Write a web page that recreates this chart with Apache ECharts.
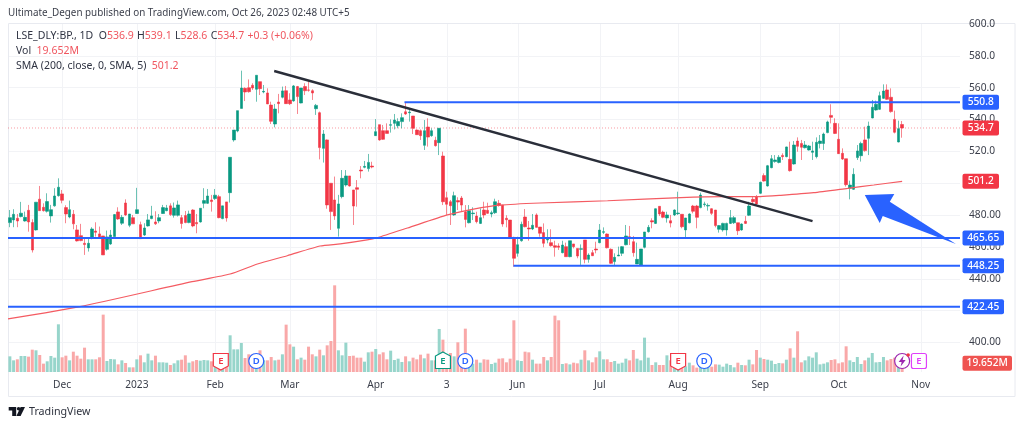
<!DOCTYPE html>
<html><head><meta charset="utf-8">
<style>html,body{margin:0;padding:0;background:#fff}#c{width:1024px;height:427px}</style>
<script src="https://cdn.jsdelivr.net/npm/echarts@6/dist/echarts.min.js"></script></head>
<body><div id="c"></div>
<script>
// [open, close, low, high]
const ohlc = [
[475.3,478.4,472.4,483.2],[477,480.5,472.4,483.7],[478,476.3,472.4,480.7],[479.1,481.2,478.6,488.3],[476.3,478.6,475.9,482.2],
[483,475.7,469.6,486.4],[475.3,458.1,456.5,477.4],[470.7,488.1,470.3,488.1],[490,482.8,482.8,498.3],[484.9,482.8,482.2,487.4],
[482.4,488.5,481.6,493.7],[479.5,483.4,475.3,486.4],[485.8,492,485.3,496.9],[492.2,497.5,491.6,503.1],[493.3,489.3,487.4,495.8],
[484.7,480.7,474.9,486.2],[478.8,483.4,478,489.1],[480.5,474.5,471.1,483.2],[470.7,463.8,463.4,473.8],[467.1,464,463.6,474.5],
[462.3,461.5,455,465.5],[459.4,462.3,457.1,465.5],[465.5,471.3,464.8,472.4],[470,469.2,466.5,475.5],[468.2,465.5,465.2,472.8],
[466.9,455,455,466.9],[458.5,466.3,457.7,470.3],[461.9,467.5,461.3,470.7],[466.5,480.3,466.1,480.7],[482,477.6,477,484.9],
[474.9,478.6,473.8,480.1],[487.6,480.1,479.5,489.9],[473.6,480.7,472.4,480.7],[478.4,474.5,474.5,480.1],[481,483.4,480.7,497.1],
[474,465.2,465,475.9],[467.5,471.9,466.9,474.9],[473.2,477,472.8,480.7],[477.8,479.5,477.4,485.8],[475.7,474.5,473.8,482.4],
[476.3,478.4,474.9,480.7],[481,484.7,480.7,486.4],[482.8,484.5,482.4,486.4],[485.8,480.3,479.5,487.4],[479.9,484.5,478.4,487.9],
[479.9,486.4,479.1,489.1],[478.4,474.7,471.5,480.1],[479.7,475.3,474.9,482.6],[475.3,480.7,474.9,482.8],[483.2,473.2,472.4,483.7],
[475.3,474.5,468.6,480.7],[475.7,484.3,475.3,484.3],[487.4,489.1,484.3,496.9],[487.4,492,487,496.4],[489.5,488.5,482.2,492.7],
[490.4,492.5,489.5,496.4],[491.6,478.4,478,492.7],[477.8,485.8,477.4,485.8],[488.3,478.2,475.9,488.3],[494.1,516.3,487.9,516.3],
[527.2,533.4,526.1,533.4],[532.8,545.6,532,545.6],[547,559.8,547,570.7],[559.6,557.3,551.6,560.2],[560,557.5,556.9,565.2],
[561.5,559.8,558.6,562.8],[559,567.8,551.2,567.8],[563.8,559.4,555.4,563.8],[557.3,557.7,556.5,561.7],[556.7,549.8,549.8,559.6],
[549.1,538.9,537.2,551.2],[537.2,546.6,535.1,549.8],[551,550,543.9,556.1],[554,558,553.3,560.7],[558.1,550,549.8,561.1],
[552.3,550,549.1,556.5],[551.7,561.1,551.2,561.7],[560.7,554.4,543.5,561.1],[550.4,559.8,550.2,559.8],[560.7,558.1,555.4,562.8],
[558.6,558.4,557.5,563.8],[558.1,556.7,552.3,559],[546.8,548.9,542.9,549.8],[544.3,522.4,515,545],[521.9,530.9,513,533.4],
[527.2,486.4,484,527.5],[500,482.2,470.7,500],[489.5,479.5,477,504.2],[471.7,487,466.5,492.7],[491.6,503.1,490.5,508.3],
[498.9,504.6,497.9,508.3],[504.6,498.3,497.9,504.6],[495.8,485.7,473.8,495.8],[497.2,496.2,485.3,502],[508.3,507.7,503.1,510.8],
[510,510.6,509.4,514],[509.2,513.1,507.3,518.4],[510.8,510.2,509.4,513.5],[529.9,532.4,529.7,540.3],[536.8,527.2,526.7,536.8],
[533,527.6,527.2,536.6],[533,531.3,531.3,537.6],[536.4,536.8,531.8,540.1],[537.6,539.7,533.8,543.5],[536.1,538.7,534.5,540.8],
[538.7,541.2,534.5,543.9],[544.9,543.5,542.9,550.6],[544.3,544.7,538.7,546],[542.2,534.5,530.9,542.2],[533.4,530.5,530.3,533.8],
[533,529.9,527.2,533.8],[523.8,533,520.9,539.7],[535.3,529,523,540.8],[529.9,533,529.2,534.5],[527,523.6,523,529.2],
[525.5,534.5,517.7,534.5],[517.1,488.4,486.3,519.8],[490.9,486.8,480.1,494.7],[488.4,485.9,473.8,489.5],[480.1,492.2,479.6,494.7],
[489.1,488.2,483.2,491.2],[490.7,486.3,482.1,492],[482.1,477.3,472.3,486.3],[475.2,482.8,474.8,486.3],[480.9,481.3,476.9,484.9],
[479.4,475.9,474.8,482.1],[474.8,478.4,474.4,484.2],[483.2,480.1,478,488.4],[483,481.1,480.7,487.8],[480.7,481.5,478.6,482.8],
[481.5,488.4,480.7,490.3],[487.4,486.1,485.3,489.5],[486.3,474.4,472.7,486.3],[478,477.1,472.3,479.9],[476.9,466,465.4,476.9],
[466,452.9,447.6,466.4],[456,461.4,453.9,466.4],[463.9,474.2,463.3,475.9],[478.8,472.7,472.3,483.8],[471.9,471.3,463.9,476.3],
[471.3,473.6,470.6,480.7],[480.1,472.3,472.1,481.1],[472.5,468.6,466.4,472.5],[469,462.3,459.8,474.8],[464.4,464.8,462.3,471.1],
[462.7,460.8,460.2,471.1],[460.8,459.8,453.9,463.9],[460.6,459.8,458.1,462.3],[456.4,461.2,456,463.9],[460.2,453.9,453.9,462.7],
[453.9,463.9,453.5,463.9],[461.9,460.2,459.1,461.9],[459.1,454.3,452.9,459.1],[458.5,458.9,448.7,461.6],[464.4,452.2,449.7,464.4],
[452.2,454.9,450.1,456],[456.4,454.5,454.3,458.1],[458.7,458.1,456,463.3],[462.7,470.6,462.3,474.4],[469.2,469.6,468.1,472.3],
[468.1,459.5,459.1,468.5],[458.5,449.7,449.3,459.1],[450.8,453.5,448.7,456],[454.3,454.9,454.3,460.2],[456,460.2,454.3,460.6],
[461.4,466.9,461,473.8],[466.4,466,461.2,473.2],[463.3,456.4,453.9,466.9],[449.3,452.2,449.3,462.7],[448.7,458.7,448.7,458.7],
[459.8,469.4,459.1,469.4],[469.6,472.3,469,473.8],[476.5,475.7,471.7,478],[474.8,484,474.4,484.2],[485.5,480.7,479.4,485.5],
[481.9,478.6,478,482.8],[478.2,480.1,475.3,482.1],[476.5,475,472.3,480.1],[480.1,483.2,479.4,483.6],[480.9,481.3,480.1,494.7],
[480.5,472.7,471.7,480.5],[470.7,478.2,465.4,478.2],[475.2,480.7,474.8,481.1],[485.7,482.4,481.1,486.4],[485.7,478.6,471.7,486.4],
[484.7,492.6,484.3,494.1],[486.6,487,485.3,488.4],[485.7,486.1,482.8,487.4],[484,481.1,480.1,484.3],[483.2,473.4,472.3,483.2],
[471.1,473.4,469,473.8],[470.7,474.8,469.6,475.2],[470.7,474.8,467.1,475.2],[474.8,478.4,474.4,483.2],[475.2,478.4,474.4,479.4],
[475.2,470.2,467.5,475.2],[470.7,474.4,470.2,474.8],[476.1,474.8,474.4,479.4],[479.9,485.7,479.4,488.4],[489.9,488.4,487,492],
[491.6,487,486.3,492.6],[493.7,500.6,493.3,501],[504.8,501.4,501,506.2],[498.3,511,497.9,511.5],[509.8,515.4,509.4,517.7],
[513.6,514.6,512.9,517.7],[513.1,516.3,512.5,517.7],[517.5,516.7,514.6,518.8],[516.7,522.8,516.3,523],[515,507.9,507.3,526.1],
[512.1,524,511.7,526.5],[526.5,523.2,519.8,528.8],[525,522.6,514.6,527.2],[522.3,524,521.9,526.5],[520.9,523.4,520.5,524],
[519.4,520.3,514.6,526.1],[516.7,525.7,515.6,528.8],[525,526.5,521.9,530.3],[525,530.9,520.9,531.8],[531.8,538.5,531.4,539.3],
[542.6,541.4,537.6,549.6],[537.6,531.3,530.9,540.8],[527.6,518.6,518.4,537.6],[518.8,515.2,514.6,521.9],[515.4,499.1,497.9,515.4],
[496.8,498.9,489.9,501.6],[496.2,505.6,495.8,509.4],[516.1,520.3,514.6,524],[517.3,525,513.6,526.1],[527.2,520.5,519.8,535.5],
[528.2,535.9,517.7,538.7],[541,547.7,540.8,552.3],[546,549.6,545.6,551.9],[546.4,555,546,557.5],[553.3,557.9,552.9,562.1],
[558.6,552.7,552.3,562.1],[554,545,544.3,559.6],[540.1,532,531.3,545.6],[525.9,534.3,525.7,539.3],[536.9,534.7,528.6,539.1]
];
// Volume in millions, one per candle
const volumes = [
35.6,26.5,28.8,36.4,36.4,34.9,50.8,49.3,38.7,19,24.3,36.4,32.6,108.4,33.4,37.1,26.5,46.2,37.1,30.3,
55.3,28.8,28.8,28.8,33.4,130.4,25,29.6,28.8,17.4,26.5,20.5,10.6,10.6,28.8,37.9,22,41.7,26.5,37.1,
22,22,21.2,15.9,19.7,26.5,28,37.9,21.2,24.3,27.3,25.8,27.3,26.5,24.3,37.1,31.8,11.4,25,83.4,
51.5,51.5,65.9,31.8,40.2,40.2,40.2,49.3,26.5,26.5,34.1,26.5,28,40.2,107.6,62.9,57.6,28.8,32.6,28,
57.6,40.2,35.6,50.8,37.9,60.6,70.5,197,49.3,37.9,66.7,36.4,37.1,32.6,32.6,23.5,44.7,46.2,52.3,40.2,
44.7,28.8,48.5,27.3,30.3,22.7,35.6,24.3,32.6,28.8,39.4,31.1,41.7,26.5,26.5,97.8,73.5,37.9,43.2,35.6,
67.5,26.5,98.5,19,19,28,21.2,28.8,28,18.2,21.2,30.3,31.1,22,30.3,117.5,26.5,25,46.2,44.7,
28,19,19,34.1,26.5,34.1,128.1,117.5,18.2,19.7,17.4,21.2,19.7,28,49.3,26.5,22,33.4,47,28.8,
28.8,22.7,25,19,21.2,30.3,26.5,50,30.3,26.5,78.1,32.6,15.9,22,15.9,15.9,37.9,26.5,9.9,15.2,
15.2,12.9,21.2,15.2,9.9,15,15,15,12,17.4,16.7,12.1,19,15.9,10.6,21.2,15.9,15.2,28,17.4,
50,32.6,29.6,28,25.8,18.2,20.5,19.7,28,53.8,32.6,92.5,22,26.5,35.6,32.6,44.7,17.4,19,22,
27.3,28.8,19.7,22,58.4,26.5,22.7,34.1,18.2,26.5,32.6,43.2,22,22.7,34.1,26.5,29.6,32.6,15.2,19.652
];
// SMA(200) as read: [bar position, price]
const smaPoints = [[-0.5,414.8],[18.8,422.5],[48.8,438.2],[59,443],[66.3,449.3],[74.3,454.5],[83.1,460.6],[88.5,461.9],[95.7,464.4],[98.4,465.8],[106.5,471.9],[117.2,480.1],[124.2,483.8],[131.4,486.3],[142.1,487.6],[160.1,489],[179.7,491],[191.2,491.6],[201,491.6],[206.5,492.4],[215.3,494.1],[224.4,496.8],[231.4,498.9],[239,501.2]];
const trendLine = [[70.8,570.5],[215,476.2]];
const arrowShape = [[229,492.6],[236.9,493.2],[235.7,488.4],[253.4,461.8],[233.8,479.4],[233,475.1]];
// Horizontal levels: [start bar, price]
const levels = [[105.7,550.8],[-0.5,465.65],[134.9,448.25],[-0.5,422.45]];
const lastPrice = 534.7, smaLast = 501.2, lastVolume = 19.652;
const monthTicks = {14:'Dec',34:'2023',55:'Feb',75:'Mar',98:'Apr',117:'3',136:'Jun',158:'Jul',179:'Aug',201:'Sep',222:'Oct',244:'Nov'};
const priceLabels = {600:'600.0',580:'580.0',560:'560.0',540:'540.0',520:'520.0',480:'480.00',460:'460.00',440:'440.00',400:'400.00'};
const header = 'Ultimate_Degen published on TradingView.com, Oct 26, 2023 02:48 UTC+5';
const barCount = 255;

const UP='#089981', DOWN='#f23645', BLUE='#2962ff', FONT='"Noto Sans",sans-serif';
const cats = Array.from({length:barCount},(_,i)=>String(i));
const L=8, R=960, T=24, B=374.35, VT=272, VB=372;
const isTick = i => monthTicks[i]!==undefined;
const gridLine = {lineStyle:{color:'#f2f3f6',width:1}};

const chart = echarts.init(document.getElementById('c'),null,{renderer:'canvas'});
chart.setOption({
  animation:false,
  backgroundColor:'#fff',
  grid:[{left:L,top:T,width:R-L,height:B-T},{left:L,top:VT,width:R-L,height:VB-VT}],
  xAxis:[
    {type:'category',gridIndex:0,data:cats,axisLine:{show:false},axisTick:{show:false},axisLabel:{show:false},
     splitLine:{show:false}},
    {type:'category',gridIndex:1,data:cats,axisLine:{show:false},axisTick:{show:false},
     axisLabel:{interval:(i)=>isTick(i),formatter:(v)=>monthTicks[v]||'',color:'#3a3e4a',fontSize:10.2,fontFamily:FONT,margin:8},
     splitLine:{show:false}},
    {type:'value',gridIndex:0,min:-0.5,max:barCount-0.5,show:false,splitLine:{show:false}}
  ],
  yAxis:[
    {type:'value',gridIndex:0,position:'right',min:380,max:600,interval:20,scale:true,axisLine:{show:false},axisTick:{show:false},
     axisLabel:{color:'#3a3e4a',fontSize:10.2,fontFamily:FONT,margin:9,formatter:(v)=>priceLabels[v]||''},
     splitLine:Object.assign({show:true,showMinLine:false,showMaxLine:false},gridLine)},
    {type:'value',gridIndex:1,min:0,max:100/0.44,show:false,splitLine:{show:false}}
  ],
  series:[
    {type:'custom',name:'monthGrid',xAxisIndex:2,yAxisIndex:0,silent:true,z:0,clip:true,
     data:Object.keys(monthTicks).map(Number),
     encode:{x:0},
     renderItem:(p,api)=>{const a=api.coord([api.value(0),600]);
       return {type:'line',shape:{x1:Math.round(a[0])+.5,y1:23,x2:Math.round(a[0])+.5,y2:372},style:{stroke:'#f2f3f6',lineWidth:1}};}},
    {type:'bar',name:'Vol',xAxisIndex:1,yAxisIndex:1,barWidth:3,z:1,
     data:volumes.map((v,i)=>({value:v,itemStyle:{color:ohlc[i][1]>=ohlc[i][0]?'#97d5cb':'#f9a8a8'}}))},
    {type:'candlestick',name:'BP',xAxisIndex:0,yAxisIndex:0,barWidth:3,z:3,
     data:ohlc,
     itemStyle:{color:UP,color0:DOWN,borderColor:UP,borderColor0:DOWN,borderWidth:0.6}},
    {type:'line',name:'SMA',xAxisIndex:2,yAxisIndex:0,data:smaPoints,smooth:0.2,showSymbol:false,z:4,lineStyle:{color:'#f45b62',width:1.2}},
    {type:'line',name:'Last',xAxisIndex:2,yAxisIndex:0,data:[[-0.5,lastPrice],[barCount-0.5,lastPrice]],showSymbol:false,z:2,lineStyle:{color:'#f23645',width:0.7,type:[1,2],opacity:.7}},
    ...levels.map(([s,v])=>({type:'line',name:'L'+v,xAxisIndex:2,yAxisIndex:0,data:[[s,v],[barCount-0.5,v]],showSymbol:false,z:5,lineStyle:{color:BLUE,width:2}})),
    {type:'line',name:'Trend',xAxisIndex:2,yAxisIndex:0,data:trendLine,showSymbol:false,z:6,lineStyle:{color:'#2a2e39',width:2.4}},
    {type:'custom',name:'Arrow',xAxisIndex:2,yAxisIndex:0,z:7,silent:true,data:[0],
     renderItem:(p,api)=>({type:'polygon',shape:{points:arrowShape.map(q=>api.coord(q))},style:{fill:BLUE}})}
  ]
});

function tag(y,x2,fill,label){
  return [
    {type:'rect',z:100,shape:{x:962.5,y:y-7.5,width:x2-962.5,height:15,r:2},style:{fill}},
    {type:'text',z:101,style:{x:(962.5+x2)/2,y:y,text:label,fill:'#fff',font:'500 10.2px '+FONT,align:'center',verticalAlign:'middle'}}
  ];
}
const py = v => chart.convertToPixel({yAxisIndex:0},v);
const vy = v => chart.convertToPixel({yAxisIndex:1},v);
const bx = i => chart.convertToPixel({xAxisIndex:2},i);
function eventBadge(i,letter,color,kind){
  const x=bx(i), y=361;
  const shapes = {
    down:{type:'polygon',shape:{points:[[x-7.5,y-7.5],[x+7.5,y-7.5],[x+7.5,y+5],[x,y+9],[x-7.5,y+5]]}},
    up:{type:'polygon',shape:{points:[[x,y-9],[x+7.5,y-5],[x+7.5,y+7.5],[x-7.5,y+7.5],[x-7.5,y-5]]}},
    box:{type:'rect',shape:{x:x-7.5,y:y-7.5,width:15,height:15,r:2}},
    round:{type:'circle',shape:{cx:x,cy:y,r:7.5}}
  };
  const shape = Object.assign(shapes[kind],{z:50,style:{fill:'#fff',stroke:color,lineWidth:1.2}});
  return [shape,{type:'text',z:51,style:{x:x,y:y,text:letter,fill:color,font:'600 9.5px '+FONT,align:'center',verticalAlign:'middle'}}];
}
const legendRich = {d:{fill:'#2f3342',font:'10.5px '+FONT},r:{fill:'#f0565f',font:'10.5px '+FONT}};
const splitX = bx(239);
chart.setOption({graphic:{elements:[
  {type:'rect',z:0,silent:true,shape:{x:8.5,y:23.5,width:1006.5,height:373},style:{fill:'none',stroke:'#e8eaf0',lineWidth:1}},
  {type:'text',z:60,style:{x:8,y:13,text:header,fill:'#3a3e4a',font:'9.85px '+FONT,verticalAlign:'middle'}},
  {type:'text',z:60,style:{x:16,y:36,verticalAlign:'middle',text:'{d|LSE_DLY:BP., 1D  O}{r|536.9} {d|H}{r|539.1} {d|L}{r|528.6} {d|C}{r|534.7} {r|+0.3 (+0.06%)}',rich:legendRich}},
  {type:'text',z:60,style:{x:16,y:51,verticalAlign:'middle',text:'{d|Vol  }{r|19.652M}',rich:legendRich}},
  {type:'text',z:60,style:{x:16,y:66,verticalAlign:'middle',text:'{d|SMA (200, close, 0, SMA, 5)  }{r|501.2}',rich:legendRich}},
  {type:'polygon',z:60,shape:{points:[[8.7,407],[16.2,407],[16.2,416],[12.2,416],[12.2,410.6],[8.7,410.6]]},style:{fill:'#131722'}},
  {type:'circle',z:60,shape:{cx:18.6,cy:408.8,r:1.8},style:{fill:'#131722'}},
  {type:'polygon',z:60,shape:{points:[[20.6,407],[25,407],[20.6,416],[16.4,416]]},style:{fill:'#131722'}},
  {type:'text',z:60,style:{x:29,y:412,text:'TradingView',fill:'#2e323e',font:'10.7px '+FONT,verticalAlign:'middle'}},
  ...eventBadge(56.5,'E',DOWN,'down'), ...eventBadge(66,'D',BLUE,'round'),
  ...eventBadge(116,'E',UP,'up'), ...eventBadge(122,'D',BLUE,'round'),
  ...eventBadge(179,'E',DOWN,'down'), ...eventBadge(186,'D',BLUE,'round'),
  ...eventBadge(239,'','#9c27b0','round'),
  {type:'polygon',z:52,shape:{points:[[splitX+1.5,355.5],[splitX-3.5,362],[splitX-0.5,362],[splitX-1.5,366.5],[splitX+3.5,360],[splitX+0.5,360]]},style:{fill:'#9c27b0'}},
  {type:'circle',z:53,shape:{cx:splitX+6,cy:355,r:1.8},style:{fill:DOWN}},
  ...eventBadge(243.5,'E','#e040fb','box'),
  ...tag(py(550.8),999,BLUE,'550.8'), ...tag(py(lastPrice),999,DOWN,'534.7'),
  ...tag(py(smaLast),999,DOWN,'501.2'), ...tag(py(465.65),1004,BLUE,'465.65'),
  ...tag(py(448.25),1004,BLUE,'448.25'), ...tag(py(422.45),1004,BLUE,'422.45'),
  ...tag(vy(lastVolume),1012,'#ef5350','19.652M')
]}});
</script></body></html>
